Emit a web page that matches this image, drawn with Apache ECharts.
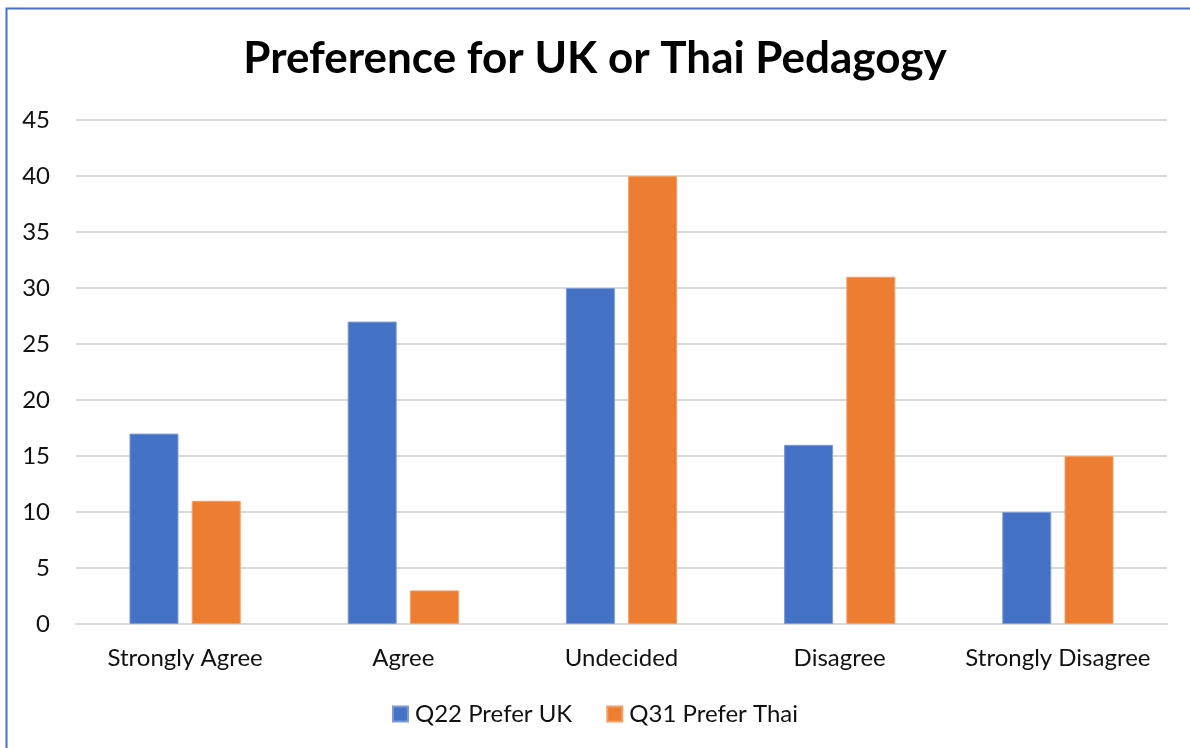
<!DOCTYPE html>
<html>
<head>
<meta charset="utf-8">
<script src="https://cdn.jsdelivr.net/npm/echarts@6/dist/echarts.min.js"></script>
<style>
  html, body { margin: 0; padding: 0; background: #fff; }
  #chart { width: 1190px; height: 748px; }
</style>
</head>
<body>
<div id="chart"></div>
<script>
// Survey responses by agreement level
const categories = ['Strongly Agree', 'Agree', 'Undecided', 'Disagree', 'Strongly Disagree'];
const preferUK = [17, 27, 30, 16, 10];
const preferThai = [11, 3, 40, 31, 15];
const seriesNames = ['Q22 Prefer UK', 'Q31 Prefer Thai'];

const FONT = 'Lato, "Open Sans", sans-serif';
const TEXT = '#111111';

const chart = echarts.init(document.getElementById('chart'), null, { renderer: 'canvas' });

chart.setOption({
  backgroundColor: '#ffffff',
  animation: false,
  color: ['#4472C4', '#ED7D31'],
  title: {
    text: 'Preference for UK or Thai Pedagogy',
    left: 'center',
    top: 32,
    textStyle: { fontFamily: FONT, fontWeight: 'bold', fontSize: 44, color: '#000' }
  },
  // chart-area frame (left and top edges)
  graphic: [{
    type: 'polyline',
    shape: { points: [[6.5, 760], [6.5, 8.5], [1200, 8.5]] },
    style: { fill: null, stroke: '#4472C4', lineWidth: 2 },
    silent: true
  }],
  legend: {
    bottom: 17,
    left: 'center',
    icon: 'rect',
    itemWidth: 15,
    itemHeight: 15,
    itemGap: 34,
    textStyle: { fontFamily: FONT, fontSize: 24, color: TEXT, padding: [0, 0, 0, 2] },
    data: seriesNames
  },
  grid: { left: 76, right: 23, top: 120, bottom: 124, containLabel: false },
  xAxis: {
    type: 'category',
    data: categories,
    axisLine: { lineStyle: { color: '#D9D9D9', width: 2 } },
    axisTick: { show: false },
    axisLabel: { interval: 0, fontFamily: FONT, fontSize: 24, color: TEXT, margin: 22 }
  },
  yAxis: {
    type: 'value',
    min: 0, max: 45, interval: 5,
    axisLine: { show: false },
    axisTick: { show: false },
    splitLine: { lineStyle: { color: '#D9D9D9', width: 2 } },
    axisLabel: { fontFamily: FONT, fontSize: 24, color: TEXT, margin: 26 }
  },
  series: [
    {
      name: seriesNames[0], type: 'bar', data: preferUK,
      barWidth: 49, barGap: '27%',
      itemStyle: { borderColor: '#7d9ad6', borderWidth: 1 }
    },
    {
      name: seriesNames[1], type: 'bar', data: preferThai,
      barWidth: 49,
      itemStyle: { borderColor: '#f2a069', borderWidth: 1 }
    }
  ]
});
</script>
</body>
</html>
